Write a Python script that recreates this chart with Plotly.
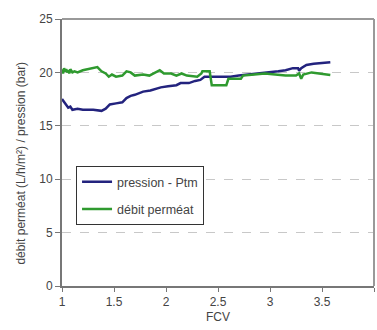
import plotly.graph_objects as go

# Pression - Ptm (bar) vs FCV
fcv_p = [1.00, 1.02, 1.04, 1.06, 1.08, 1.10, 1.15, 1.20, 1.30, 1.38, 1.42, 1.46, 1.52, 1.58,
         1.62, 1.66, 1.70, 1.78, 1.85, 1.95, 2.02, 2.10, 2.14, 2.22, 2.28, 2.33, 2.37, 2.45,
         2.55, 2.62, 2.70, 2.80, 2.92, 3.00, 3.08, 3.15, 3.22, 3.27, 3.28, 3.30, 3.35, 3.42,
         3.50, 3.58]
pression = [17.5, 17.2, 16.9, 16.7, 16.8, 16.5, 16.6, 16.5, 16.5, 16.4, 16.6, 17.0, 17.1, 17.2,
            17.6, 17.8, 17.9, 18.2, 18.3, 18.6, 18.7, 18.8, 19.0, 19.0, 19.2, 19.3, 19.6, 19.6,
            19.6, 19.6, 19.7, 19.8, 19.9, 20.0, 20.1, 20.2, 20.4, 20.4, 20.15, 20.4, 20.7, 20.8,
            20.9, 20.95]

# Débit perméat (L/h/m²) vs FCV
fcv_d = [1.00, 1.01, 1.02, 1.03, 1.04, 1.05, 1.06, 1.07, 1.08, 1.10, 1.12, 1.15, 1.20, 1.25,
         1.30, 1.34, 1.38, 1.42, 1.45, 1.48, 1.52, 1.58, 1.62, 1.66, 1.70, 1.78, 1.84, 1.90,
         1.94, 1.98, 2.05, 2.10, 2.15, 2.20, 2.30, 2.34, 2.35, 2.42, 2.44, 2.58, 2.60, 2.72,
         2.74, 2.85, 2.95, 3.05, 3.15, 3.25, 3.28, 3.30, 3.32, 3.40, 3.50, 3.58]
debit = [20.3, 19.9, 20.4, 20.1, 20.3, 20.0, 20.2, 19.9, 20.3, 20.0, 20.1, 20.0, 20.2, 20.3,
         20.4, 20.5, 20.1, 19.9, 19.6, 19.8, 19.6, 19.7, 20.1, 20.0, 19.7, 19.8, 19.7, 20.0,
         20.2, 19.9, 19.9, 19.7, 19.9, 19.7, 19.6, 19.9, 20.1, 20.1, 18.8, 18.8, 19.4, 19.4,
         19.7, 19.8, 19.9, 19.8, 19.7, 19.7, 19.9, 19.4, 19.8, 20.0, 19.9, 19.75]

x_ticks = [1, 1.5, 2, 2.5, 3, 3.5, 4]
x_tick_labels = ["1", "1.5", "2", "2.5", "3", "3.5", "4"]
y_ticks = [0, 5, 10, 15, 20, 25]

font = "Liberation Sans, Arial, sans-serif"
txt = "#444444"

fig = go.Figure()
fig.add_trace(go.Scatter(x=fcv_p, y=pression, mode="lines", name="pression - Ptm",
                         legendgroup="a",
                         line=dict(color="#23237e", width=2.5)))
fig.add_trace(go.Scatter(x=fcv_d, y=debit, mode="lines", name="débit perméat",
                         legendgroup="b",
                         line=dict(color="#2f9a2f", width=2.5)))

fig.update_layout(
    width=377, height=330,
    margin=dict(l=62, r=3, t=19, b=44),
    paper_bgcolor="white", plot_bgcolor="white",
    font=dict(family=font, size=12, color=txt),
    showlegend=True,
    legend=dict(x=0.045, y=0.449, xanchor="left", yanchor="top",
                bordercolor="#333333", borderwidth=1, bgcolor="white",
                font=dict(family=font, size=12.5, color=txt),
                traceorder="grouped", tracegroupgap=8),
    xaxis=dict(range=[1, 4], tickvals=x_ticks, ticktext=x_tick_labels,
               showgrid=False, zeroline=False,
               showline=True, linecolor="#777777", linewidth=2, mirror=False,
               ticks="outside", ticklen=4, tickcolor="#777777",
               title=dict(text="FCV", standoff=4, font=dict(size=12, color=txt))),
    yaxis=dict(range=[0, 25], tickvals=y_ticks,
               showgrid=True, gridcolor="#c8c8c8", griddash="dash", gridwidth=1,
               zeroline=False,
               showline=True, linecolor="#777777", linewidth=2,
               ticks="outside", ticklen=5, tickcolor="#777777"),
    shapes=[
        dict(type="line", xref="paper", yref="paper", x0=0, x1=1, y0=1, y1=1,
             line=dict(color="#999999", width=2)),
        dict(type="line", xref="paper", yref="paper", x0=1, x1=1, y0=0, y1=1,
             line=dict(color="#999999", width=2)),
    ],
    annotations=[
        dict(text="débit perméat (L/h/m²) / pression (bar)", textangle=-90,
             xref="paper", yref="paper", x=-0.13, y=0.46,
             xanchor="center", yanchor="middle", showarrow=False,
             font=dict(family=font, size=12, color=txt)),
    ],
)

fig.write_html("out.html")
